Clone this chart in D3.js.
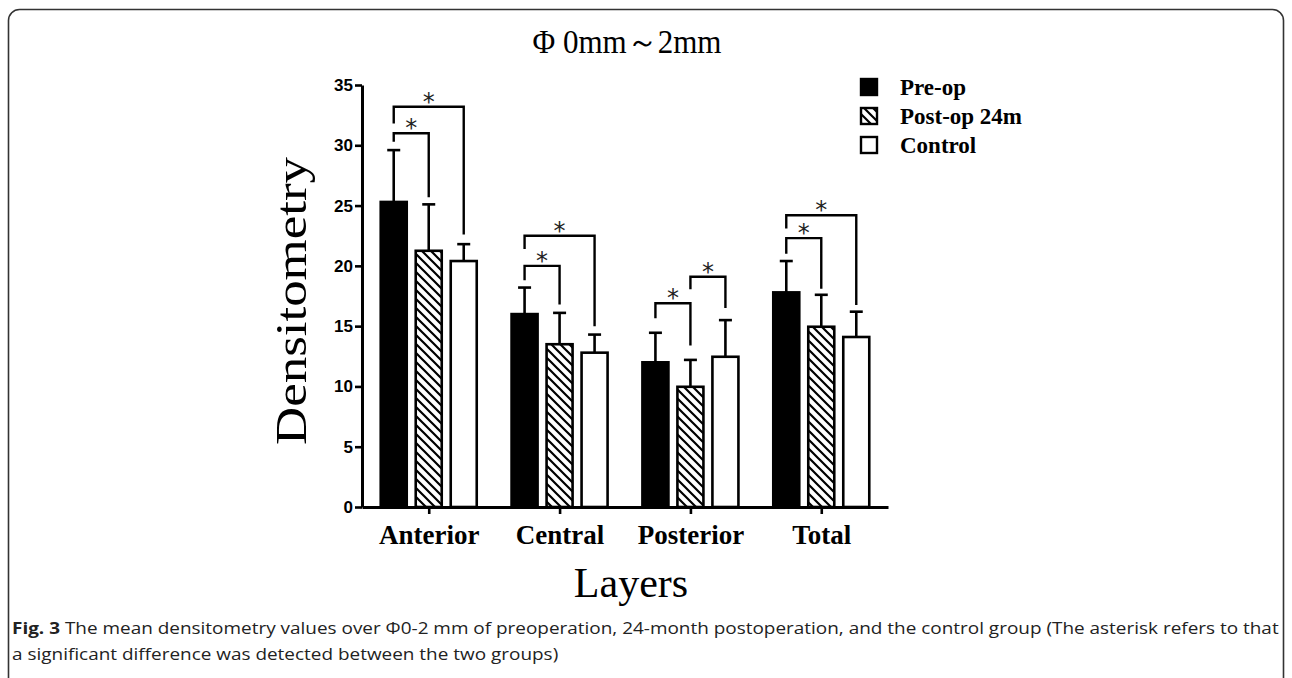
<!DOCTYPE html>
<html><head><meta charset="utf-8">
<script src="https://cdn.jsdelivr.net/npm/d3@7"></script>
<style>body{margin:0;background:#fff}</style>
</head><body><svg id="c" width="1292" height="678"></svg>
<script>
// ---- data ----
const categories = ["Anterior", "Central", "Posterior", "Total"];
const seriesNames = ["Pre-op", "Post-op 24m", "Control"];
const preOp     = [25.3, 16.0, 12.0, 17.8];
const preOpSD   = [4.3, 2.2, 2.45, 2.6];
const postOp    = [21.25, 13.5, 9.97, 14.95];
const postOpSD  = [3.85, 2.6, 2.23, 2.65];
const control   = [20.4, 12.8, 12.46, 14.1];
const controlSD = [1.4, 1.5, 3.04, 2.1];
const yTicks = [0, 5, 10, 15, 20, 25, 30, 35];
// significance brackets: category, from series, to series, top, left leg end, right leg end
const brCat   = [0, 0, 1, 1, 2, 2, 3, 3];
const brFrom  = [0, 0, 0, 0, 0, 1, 0, 0];
const brTo    = [1, 2, 1, 2, 1, 2, 1, 2];
const brTop   = [31.0, 33.2, 20.0, 22.5, 16.9, 19.1, 22.3, 24.2];
const brLeft  = [30.3, 31.8, 18.8, 21.4, 15.65, 18.05, 21.0, 23.1];
const brRight = [25.7, 22.6, 16.8, 15.0, 13.4, 16.5, 18.1, 16.75];
const titleText = "Φ 0mm～2mm";
const yLabel = "Densitometry";
const xLabel = "Layers";
const caption1Bold = "Fig. 3";
const caption1 = " The mean densitometry values over Φ0-2 mm of preoperation, 24-month postoperation, and the control group (The asterisk refers to that";
const caption2 = "a significant difference was detected between the two groups)";

const means = [preOp, postOp, control];
const sds = [preOpSD, postOpSD, controlSD];

const svg = d3.select("#c");
const defs = svg.append("defs");
const pat = defs.append("pattern").attr("id", "hatch")
  .attr("patternUnits", "userSpaceOnUse").attr("width", 9).attr("height", 9);
pat.append("rect").attr("width", 9).attr("height", 9).attr("fill", "#fff");
pat.append("path").attr("d", "M-2,-2L11,11M-2,7L2,11M7,-2L11,2")
  .attr("stroke", "#000").attr("stroke-width", 2.2);
const fills = ["#000", "url(#hatch)", "#fff"];

// frame
svg.append("rect").attr("x", 8.5).attr("y", 9.5).attr("width", 1275).attr("height", 720)
  .attr("rx", 11).attr("fill", "none").attr("stroke", "#333").attr("stroke-width", 1.6);

// scales
const x0 = d3.scalePoint().domain(categories).range([362, 888]).padding(0.51);
const x1 = d3.scaleBand().domain(seriesNames).range([-52.5, 52.5]).paddingInner(0.257).paddingOuter(0.1285);
const y = d3.scaleLinear().domain([0, 35]).range([507, 85]);
const cx = (ci, si) => x0(categories[ci]) + x1(seriesNames[si]) + x1.bandwidth() / 2;

// title
svg.append("text").attr("x", 627).attr("y", 53).attr("text-anchor", "middle")
  .attr("font-family", "Liberation Serif, serif").attr("font-size", 33)
  .attr("textLength", 189).attr("lengthAdjust", "spacingAndGlyphs").text(titleText);

// bars
const g = svg.append("g");
const barData = [];
categories.forEach((c, ci) => seriesNames.forEach((s, si) => barData.push({ci, si, v: means[si][ci], sd: sds[si][ci]})));

// error bars (drawn first so bar covers the bottom)
const eb = g.selectAll(".eb").data(barData).enter().append("g")
  .attr("stroke", "#000").attr("stroke-width", 2.6).attr("fill", "none");
eb.append("line").attr("x1", d => cx(d.ci, d.si)).attr("x2", d => cx(d.ci, d.si))
  .attr("y1", d => y(d.v)).attr("y2", d => y(d.v + d.sd));
eb.append("line").attr("x1", d => cx(d.ci, d.si) - 6.5).attr("x2", d => cx(d.ci, d.si) + 6.5)
  .attr("y1", d => y(d.v + d.sd)).attr("y2", d => y(d.v + d.sd));

g.selectAll(".bar").data(barData).enter().append("rect")
  .attr("x", d => x0(categories[d.ci]) + x1(seriesNames[d.si]))
  .attr("width", x1.bandwidth())
  .attr("y", d => y(d.v)).attr("height", d => y(0) - y(d.v))
  .attr("fill", d => fills[d.si]).attr("stroke", "#000").attr("stroke-width", 2.6);

// brackets
const brIdx = d3.range(brCat.length);
const bg = svg.append("g");
bg.selectAll("path").data(brIdx).enter().append("path")
  .attr("d", i => {
    const xa = cx(brCat[i], brFrom[i]), xb = cx(brCat[i], brTo[i]);
    return `M${xa},${y(brLeft[i])}V${y(brTop[i])}H${xb}V${y(brRight[i])}`;
  })
  .attr("fill", "none").attr("stroke", "#000").attr("stroke-width", 2.4);
bg.selectAll("text").data(brIdx).enter().append("text")
  .attr("x", i => (cx(brCat[i], brFrom[i]) + cx(brCat[i], brTo[i])) / 2)
  .attr("y", i => y(brTop[i]) + 3)
  .attr("text-anchor", "middle").attr("font-family", "DejaVu Sans, sans-serif")
  .attr("font-size", 24).attr("fill", "#222").text("*");

// y axis
const yAxis = svg.append("g").attr("transform", "translate(362,0)")
  .call(d3.axisLeft(y).tickValues(yTicks).tickSize(7).tickPadding(2).tickSizeOuter(0));
yAxis.select(".domain").attr("stroke-width", 3);
yAxis.selectAll(".tick line").attr("stroke-width", 2.6);
yAxis.selectAll("text").attr("font-family", "Liberation Sans, Arial, sans-serif")
  .attr("font-weight", "bold").attr("font-size", 17).attr("fill", "#000");

// x axis
const xAxis = svg.append("g").attr("transform", "translate(0,507)")
  .call(d3.axisBottom(x0).tickSize(7).tickPadding(11).tickSizeOuter(0));
xAxis.select(".domain").attr("stroke-width", 3);
xAxis.selectAll(".tick line").attr("stroke-width", 2.6);
xAxis.selectAll("text").attr("font-family", "Liberation Serif, Times New Roman, serif")
  .attr("font-weight", "bold").attr("font-size", 27).attr("fill", "#000").attr("dy", "0.72em");

// axis labels
svg.append("text").attr("transform", "translate(306,301) rotate(-90)")
  .attr("text-anchor", "middle").attr("font-family", "Liberation Serif, serif").attr("font-size", 44)
  .attr("textLength", 288).attr("lengthAdjust", "spacingAndGlyphs").text(yLabel);
svg.append("text").attr("x", 631).attr("y", 597).attr("text-anchor", "middle")
  .attr("font-family", "Liberation Serif, serif").attr("font-size", 42).text(xLabel);

// legend
const lg = svg.append("g");
const legBase = [95, 124, 153];
seriesNames.forEach((s, i) => {
  lg.append("rect").attr("x", 861).attr("y", legBase[i] - 16).attr("width", 16).attr("height", 16)
    .attr("fill", fills[i]).attr("stroke", "#000").attr("stroke-width", 2.4);
  lg.append("text").attr("x", 900).attr("y", legBase[i])
    .attr("font-family", "Liberation Serif, serif").attr("font-weight", "bold").attr("font-size", 23).text(s);
});

// caption
const cap = svg.append("g").attr("font-family", "Open Sans, sans-serif").attr("font-size", 16.5).attr("fill", "#222");
const t1 = cap.append("text").attr("x", 12).attr("y", 634);
t1.append("tspan").attr("font-weight", "bold").text(caption1Bold);
t1.append("tspan").text(caption1);
cap.append("text").attr("x", 12).attr("y", 660).text(caption2);
const sx = 1268 / t1.node().getComputedTextLength();
cap.attr("transform", `translate(12,0) scale(${sx},1) translate(-12,0)`);
</script></body></html>
